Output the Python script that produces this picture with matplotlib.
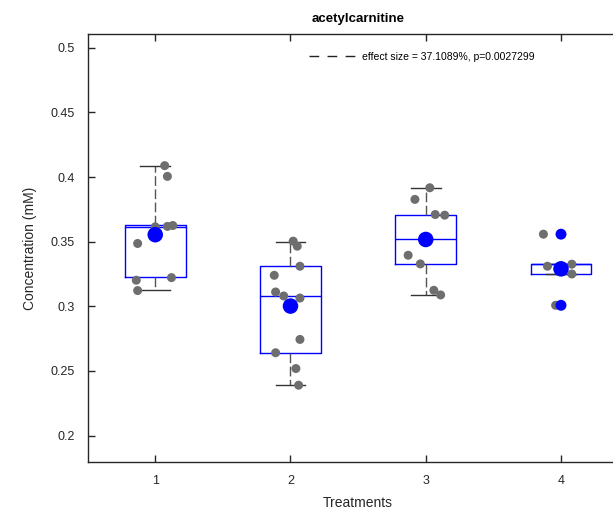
import numpy as np
import matplotlib.pyplot as plt
from matplotlib.lines import Line2D

plt.rcParams['font.family'] = ['Liberation Sans', 'DejaVu Sans']

treatments = [1, 2, 3, 4]

# individual samples (x = jittered position, y = concentration in mM)
pts_x_1 = [1.07, 1.09, 1.09, 1.13, 1.00, 0.87, 0.86, 1.12, 0.87]
pts_y_1 = [0.4088, 0.4005, 0.3618, 0.3625, 0.3615, 0.3486, 0.3202, 0.3222, 0.3122]
pts_x_2 = [2.02, 2.05, 2.07, 1.88, 1.89, 1.95, 2.07, 2.07, 1.89, 2.04, 2.06]
pts_y_2 = [0.3504, 0.3465, 0.3310, 0.3240, 0.3111, 0.3080, 0.3064, 0.2744, 0.2641, 0.2519, 0.2390]
pts_x_3 = [3.03, 2.92, 3.07, 3.14, 2.87, 2.96, 3.06, 3.11, 3.00]
pts_y_3 = [0.3917, 0.3827, 0.3710, 0.3705, 0.3395, 0.3328, 0.3124, 0.3088, 0.3520]
pts_x_4 = [3.87, 3.90, 4.08, 4.08, 3.96, 4.00]
pts_y_4 = [0.3558, 0.3310, 0.3326, 0.3250, 0.3008, 0.3290]

# box statistics as drawn in the original
q1 = [0.3225, 0.2641, 0.3328, 0.3250]
med = [0.3612, 0.3080, 0.3519, 0.3326]
q3 = [0.3628, 0.3310, 0.3710, 0.3326]
whislo = [0.3124, 0.2390, 0.3088, 0.3250]
whishi = [0.4088, 0.3499, 0.3917, 0.3326]
means = [0.3554, 0.3002, 0.3517, 0.3290]
outlier_x = [4, 4]
outlier_y = [0.3558, 0.3008]

legend_label = 'effect size = 37.1089%, p=0.0027299'

fig = plt.figure(figsize=(6.13, 5.09), dpi=100)
ax = fig.add_axes([0.1429, 0.0923, 0.8826, 0.8409])

stats = []
for i in range(4):
    stats.append(dict(q1=q1[i], med=med[i], q3=q3[i], whislo=whislo[i],
                      whishi=whishi[i], fliers=[]))

ax.bxp(stats, positions=treatments, widths=0.45, showfliers=False,
       boxprops=dict(color='#0000ff', linewidth=1.0),
       medianprops=dict(color='#0000ff', linewidth=1.0),
       whiskerprops=dict(color='#555555', linewidth=1.0, dashes=(7, 2.5)),
       capprops=dict(color='#333333', linewidth=1.0),
       capwidths=0.22, manage_ticks=False, zorder=2)

gray = '#6e6e6e'
for xs, ys in [(pts_x_1, pts_y_1), (pts_x_2, pts_y_2), (pts_x_3, pts_y_3), (pts_x_4, pts_y_4)]:
    ax.scatter(xs, ys, s=42, color=gray, edgecolors='none', zorder=3)

ax.scatter(outlier_x, outlier_y, s=62, color='#0000ff', edgecolors='none', zorder=4)
ax.scatter(treatments, means, s=125, color='#0000ff', edgecolors='none', zorder=5)

ax.set_xlim(0.5, 4.5)
ax.set_ylim(0.1796, 0.5106)

yt = [0.2, 0.25, 0.3, 0.35, 0.4, 0.45, 0.5]
ax.set_yticks(yt)
ax.set_yticklabels(['0.2', '0.25', '0.3', '0.35', '0.4', '0.45', '0.5'])
ax.set_xticks(treatments)
ax.set_xticklabels(['1', '2', '3', '4'])

ax.tick_params(axis='y', direction='in', length=5, width=1, pad=9,
               labelsize=9, colors='#262626')
ax.tick_params(axis='x', direction='in', length=5, width=1, pad=9,
               labelsize=9, colors='#262626', top=True)

for s in ['left', 'top', 'bottom']:
    ax.spines[s].set_color('#262626')
    ax.spines[s].set_linewidth(1.0)
ax.spines['right'].set_visible(False)

ax.set_title('acetylcarnitine', fontsize=9.5, fontweight='bold', pad=9)
ax.set_xlabel('Treatments', fontsize=10, color='#262626', labelpad=7)
ax.set_ylabel('Concentration (mM)', fontsize=10, color='#262626', labelpad=10)

handle = Line2D([], [], color='#222222', linewidth=1.0, dashes=(7, 6))
ax.legend([handle], [legend_label], loc='center', bbox_to_anchor=(0.688, 0.888),
          bbox_transform=fig.transFigure, frameon=False, fontsize=7.5,
          handlelength=4.8, handletextpad=0.3, borderpad=0)

fig.savefig('out.png', dpi=100)
